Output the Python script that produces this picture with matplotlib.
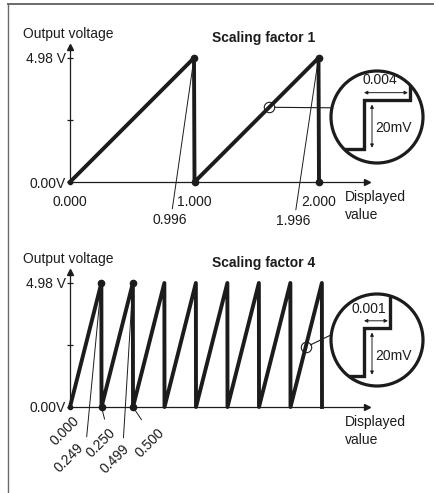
"""Analog output sawtooth for scaling factor 1 and 4, with magnified LSB step."""
import numpy as np
import matplotlib
matplotlib.use("Agg")
import matplotlib.pyplot as plt
from matplotlib.patches import Circle, ConnectionPatch
from matplotlib.lines import Line2D

plt.rcParams["font.family"] = ["Liberation Sans", "DejaVu Sans"]
plt.rcParams["font.size"] = 10

INK = "#1c1c1c"
W, H = 436, 493

# ---- data ---------------------------------------------------------------
v_max = 4.98
v_ticks = [0.0, 2.49, 4.98]
v_tick_labels = ["0.00V", "", "4.98 V"]

# scaling factor 1
saw1_x = [0.000, 0.996, 1.000, 1.996, 2.000]
saw1_y = [0.00, 4.98, 0.00, 4.98, 0.00]
dots1_x = [0.996, 1.000, 1.996, 2.000]
dots1_y = [4.98, 0.00, 4.98, 0.00]
ticks1 = [0.000, 1.000, 2.000]
tick1_labels = ["0.000", "1.000", "2.000"]
peaks1 = ["0.996", "1.996"]
zoom1_x = 1.6

# scaling factor 4
saw4_x = [0.000, 0.249, 0.250, 0.499, 0.500, 0.749, 0.750, 0.999, 1.000,
          1.249, 1.250, 1.499, 1.500, 1.749, 1.750, 1.999, 2.000]
saw4_y = [0.00, 4.98, 0.00, 4.98, 0.00, 4.98, 0.00, 4.98, 0.00,
          4.98, 0.00, 4.98, 0.00, 4.98, 0.00, 4.98, 0.00]
dots4_x = [0.249, 0.250, 0.499, 0.500]
dots4_y = [4.98, 0.00, 4.98, 0.00]
labels4 = ["0.000", "0.249", "0.250", "0.499", "0.500"]
labels4_x = [0.000, 0.249, 0.250, 0.499, 0.500]
labels4_y = [0.00, 4.98, 0.00, 4.98, 0.00]
zoom4_x = 1.87

# one LSB step inside the magnifier (displayed value, mV)
lsb1 = 0.004
lsb4 = 0.001
lsb_mv = 20
step1_x = [-0.004, 0.0, 0.0, 0.004, 0.004]
step4_x = [-0.002, 0.0, 0.0, 0.001, 0.001]
step_y = [0, 0, 20, 20, 45]


def px_rect(x0, y0, x1, y1):
    return [x0 / W, 1 - y1 / H, (x1 - x0) / W, (y1 - y0) / H]


def saw_axes(fig, rect, xmax, title):
    ax = fig.add_axes(rect)
    ax.set_xlim(0, xmax)
    ax.set_ylim(0, 5.42)
    ax.patch.set_visible(False)
    for s in ["top", "right"]:
        ax.spines[s].set_visible(False)
    for s in ["left", "bottom"]:
        ax.spines[s].set_linewidth(0.9)
        ax.spines[s].set_color(INK)
    ax.plot(1, 0, ">", color=INK, ms=4, transform=ax.transAxes, clip_on=False)
    ax.plot(0, 1, "^", color=INK, ms=4, transform=ax.transAxes, clip_on=False)
    ax.set_yticks(v_ticks, v_tick_labels)
    ax.tick_params(axis="y", direction="inout", length=4, width=0.9,
                   pad=1, colors=INK, labelsize=10)
    ax.plot(0, 0, "o", color=INK, ms=3, clip_on=False)
    ax.annotate("Output voltage", xy=(0, 1), xycoords="axes fraction",
                xytext=(-47, 13), textcoords="offset pixels",
                ha="left", va="center", color=INK)
    ax.annotate(title, xy=(0, 1), xycoords="axes fraction",
                xytext=(194, 9), textcoords="offset pixels",
                ha="center", va="center", weight="bold", color=INK)
    ax.annotate("Displayed\nvalue", xy=(1, 0), xycoords="axes fraction",
                xytext=(-22, -24), textcoords="offset pixels",
                ha="left", va="center", color=INK, linespacing=1.3)
    return ax


def magnifier(fig, rect, step_x, lsb, px_per_x, px_per_mv, corner, box, text_dx):
    m = fig.add_axes(rect)
    x0, y0, x1, y1 = box
    cx, cy = corner
    m.set_xlim((x0 - cx) / px_per_x, (x1 - cx) / px_per_x)
    m.set_ylim(-(y1 - cy) / px_per_mv, (cy - y0) / px_per_mv)
    m.axis("off")
    ring = Circle((0.5, 0.5), 0.5, transform=m.transAxes, fill=False,
                  lw=2.3, color=INK, clip_on=False)
    m.add_patch(ring)
    clip = Circle((0.5, 0.5), 0.5, transform=m.transAxes, visible=False)
    m.add_patch(clip)
    ln, = m.plot(step_x, step_y, color=INK, lw=2.4, solid_joinstyle="miter")
    ln.set_clip_path(clip)
    arrow = dict(arrowstyle="<|-|>", lw=0.7, color=INK, shrinkA=0,
                 shrinkB=1.5, mutation_scale=5)
    m.annotate("", xy=(lsb, 23), xytext=(0, 23), arrowprops=arrow)
    vx = 8 / px_per_x
    m.annotate("", xy=(vx, lsb_mv - 1), xytext=(vx, 0.5), arrowprops=arrow)
    m.text(vx + 3 / px_per_x, 8.5, f"{lsb_mv}mV", ha="left", va="center",
           color=INK)
    m.text(text_dx / px_per_x, 28, f"{lsb:.3f}", ha="center", va="center",
           color=INK)
    return m


fig = plt.figure(figsize=(W / 100, H / 100), dpi=100)

# page frame
fig.add_artist(Line2D([8 / W, 433 / W], [1 - 4 / H, 1 - 4 / H],
                      color="#6a6a6a", lw=1.4))
fig.add_artist(Line2D([8 / W, 8 / W], [1 - 4 / H, 0], color="#6a6a6a", lw=1.0))

# ---- scaling factor 1 ----------------------------------------------------
ax1 = saw_axes(fig, px_rect(70, 47, 367, 182), 297 / 124.5, "Scaling factor 1")
ax1.plot(saw1_x, saw1_y, color=INK, lw=2.8, clip_on=False)
ax1.plot(dots1_x, dots1_y, "o", color=INK, ms=4.5, clip_on=False)
ax1.set_xticks(ticks1, tick1_labels)
ax1.tick_params(axis="x", length=0, pad=9, colors=INK, labelsize=10)
lead = dict(arrowstyle="-", lw=0.7, color=INK, shrinkA=1, shrinkB=3,
            relpos=(0.55, 1.0))
for lab, off in zip(peaks1, [(-24, -162), (-25, -163)]):
    ax1.annotate(lab, xy=(float(lab), v_max), xytext=off,
                 textcoords="offset pixels", ha="center", va="center",
                 color=INK, arrowprops=lead)
z1 = np.interp(zoom1_x, saw1_x[2:4], saw1_y[2:4])
ax1.plot(zoom1_x, z1, "o", ms=7.5, mfc="none", mec=INK, mew=0.8)

mag1 = magnifier(fig, px_rect(331, 71, 423, 163), step1_x, lsb1,
                 46 / lsb1, 49 / lsb_mv, (364, 149), (331, 71, 423, 163), 16)
fig.add_artist(ConnectionPatch(xyA=(zoom1_x, z1), coordsA=ax1.transData,
                               xyB=(0.011, 0.6), coordsB=mag1.transAxes,
                               color=INK, lw=0.8, shrinkA=3.8, shrinkB=0))

# ---- scaling factor 4 ----------------------------------------------------
ax4 = saw_axes(fig, px_rect(70, 272, 367, 407), 297 / 126, "Scaling factor 4")
ax4.plot(saw4_x, saw4_y, color=INK, lw=2.8, clip_on=False)
ax4.plot(dots4_x, dots4_y, "o", color=INK, ms=4.5, clip_on=False)
ax4.set_xticks([])

offsets4 = [(2, -7), (-25, -158), (7, -19), (-11, -159), (24, -19)]
relpos4 = [None, (1.0, 1.0), (0.65, 1.0), (0.75, 1.0), (0.45, 0.9)]
for lab, lx, ly, off, rp in zip(labels4, labels4_x, labels4_y, offsets4, relpos4):
    props = None
    if rp is not None:
        props = dict(arrowstyle="-", lw=0.7, color=INK, relpos=rp,
                     shrinkA=1 if ly > 0 else 3, shrinkB=3 if ly > 0 else 2)
    ax4.annotate(lab, xy=(lx, ly), xytext=off, textcoords="offset pixels",
                 ha="right", va="top", rotation=45, rotation_mode="anchor",
                 color=INK, arrowprops=props)
z4 = np.interp(zoom4_x, saw4_x[14:16], saw4_y[14:16])
ax4.plot(zoom4_x, z4, "o", ms=7.5, mfc="none", mec=INK, mew=0.8)

mag4 = magnifier(fig, px_rect(331, 294, 423, 386), step4_x, lsb4,
                 26 / lsb4, 48 / lsb_mv, (364, 376), (331, 294, 423, 386), 5)
fig.add_artist(ConnectionPatch(xyA=(zoom4_x, z4), coordsA=ax4.transData,
                               xyB=(0.01, 0.56), coordsB=mag4.transAxes,
                               color=INK, lw=0.8, shrinkA=3.8, shrinkB=0))

fig.savefig("out.png", dpi=100)
